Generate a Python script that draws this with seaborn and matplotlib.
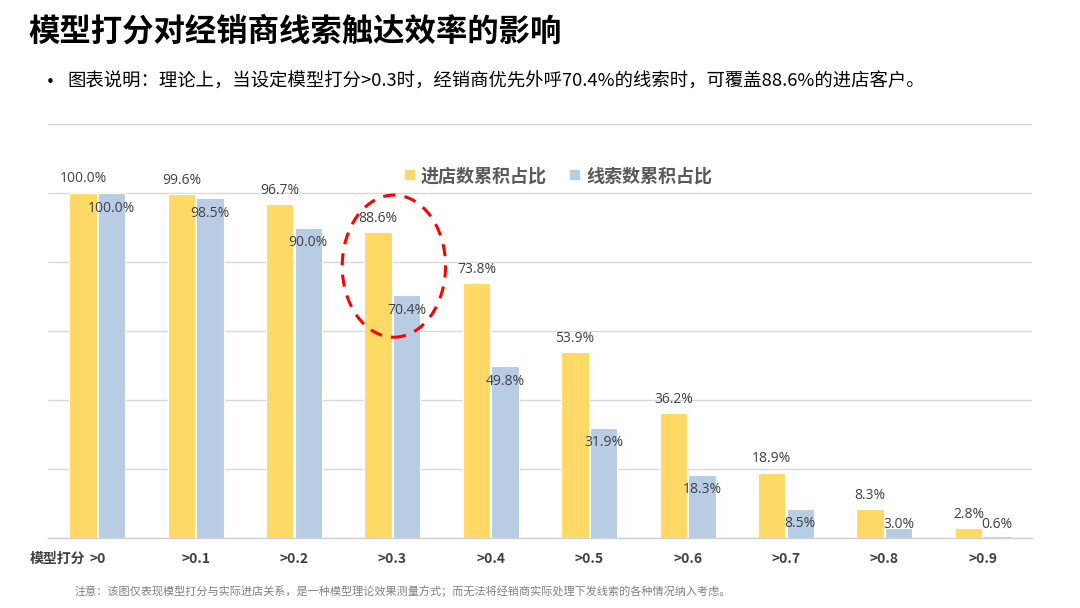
import matplotlib
matplotlib.use("Agg")
import matplotlib.pyplot as plt
from matplotlib.patches import Ellipse
import seaborn as sns
import pandas as pd
import numpy as np

categories = [">0", ">0.1", ">0.2", ">0.3", ">0.4", ">0.5", ">0.6", ">0.7", ">0.8", ">0.9"]
store_share = [100.0, 99.6, 96.7, 88.6, 73.8, 53.9, 36.2, 18.9, 8.3, 2.8]
lead_share = [100.0, 98.5, 90.0, 70.4, 49.8, 31.9, 18.3, 8.5, 3.0, 0.6]
series_names = ["进店数累积占比", "线索数累积占比"]
colors = ["#FFD966", "#B8CCE4"]

sns.set_theme(style="white")
plt.rcParams["font.family"] = ["Noto Sans CJK SC", "DejaVu Sans"]

df = pd.DataFrame({
    "cat": categories * 2,
    "series": [series_names[0]] * len(categories) + [series_names[1]] * len(categories),
    "val": [v / 100 for v in store_share] + [v / 100 for v in lead_share],
})

fig = plt.figure(figsize=(10.8, 6.08), dpi=100)
ax = fig.add_axes([48 / 1080, 1 - 538 / 608, 984 / 1080, 414 / 608])

sns.barplot(data=df, x="cat", y="val", hue="series", palette=colors,
            width=0.58, gap=0.04, ax=ax, legend=False, saturation=1,
            edgecolor="white", linewidth=0.8)

ax.set_xlim(-0.5, len(categories) - 0.5)
ax.set_ylim(0, 1.2)
ax.set_yticks([0, 0.2, 0.4, 0.6, 0.8, 1.0, 1.2])
ax.set_yticklabels([])
ax.tick_params(axis="y", length=0)
ax.grid(axis="y", color="#D9D9D9", linewidth=1)
ax.set_axisbelow(True)
for s in ["top", "right", "left"]:
    ax.spines[s].set_visible(False)
ax.spines["bottom"].set_color("#D0D0D0")
ax.spines["bottom"].set_linewidth(1)
ax.set_xlabel("")
ax.set_ylabel("")
ax.set_xticks(range(len(categories)))
ax.set_xticklabels(categories, fontsize=10, color="#404040", fontweight="bold")
ax.tick_params(axis="x", length=0, pad=10)
ax.set_xticks(np.arange(-0.5, len(categories), 1), minor=True)
ax.tick_params(axis="x", which="minor", length=5, color="#D0D0D0", width=1)

# data labels
lab_font = dict(fontsize=10, color="#404040", family=["Open Sans", "DejaVu Sans"])
c0, c1 = ax.containers[0], ax.containers[1]
for bar, v in zip(c0, store_share):
    ax.text(bar.get_x() + bar.get_width() / 2, v / 100 + 14 / 345, f"{v:.1f}%",
            ha="center", va="center", **lab_font)
for bar, v in zip(c1, lead_share):
    y = max(v / 100 - 15 / 345, 13 / 345)
    ax.text(bar.get_x() + bar.get_width() / 2, y, f"{v:.1f}%",
            ha="center", va="center", **lab_font)

# dashed ellipse highlight
ell = Ellipse((3.015, 0.788), 1.05, 0.412, fill=False, edgecolor="#FF0000",
              linewidth=2.2, linestyle=(0, (4, 3)), clip_on=False)
ax.add_patch(ell)

# legend
fig.patches.append(plt.Rectangle((405 / 1080, 1 - 179 / 608), 9 / 1080, 9 / 608,
                                 transform=fig.transFigure, color=colors[0]))
fig.text(421 / 1080, 1 - 176 / 608, series_names[0], fontsize=13, fontweight="bold",
         color="#595959", va="center", ha="left")
fig.patches.append(plt.Rectangle((570 / 1080, 1 - 179 / 608), 9 / 1080, 9 / 608,
                                 transform=fig.transFigure, color=colors[1]))
fig.text(586 / 1080, 1 - 176 / 608, series_names[1], fontsize=13, fontweight="bold",
         color="#595959", va="center", ha="left")

# titles
fig.text(28 / 1080, 1 - 31 / 608, "模型打分对经销商线索触达效率的影响", fontsize=22.6,
         fontweight="heavy", color="#000000", va="center", ha="left")
fig.text(40 / 1080, 1 - 83 / 608, "•", fontsize=15, color="#000000", va="center", ha="left")
fig.text(67 / 1080, 1 - 82 / 608,
         "图表说明：理论上，当设定模型打分>0.3时，经销商优先外呼70.4%的线索时，可覆盖88.6%的进店客户。",
         fontsize=13.2, color="#000000", va="center", ha="left")

fig.text(30 / 1080, 1 - 559 / 608, "模型打分", fontsize=10, fontweight="bold",
         color="#404040", va="center", ha="left")

fig.text(75 / 1080, 1 - 591 / 608,
         "注意：该图仅表现模型打分与实际进店关系，是一种模型理论效果测量方式；而无法将经销商实际处理下发线索的各种情况纳入考虑。",
         fontsize=8.0, color="#808080", va="center", ha="left", fontstyle="italic")

fig.savefig("out.png", dpi=100, facecolor="white")
